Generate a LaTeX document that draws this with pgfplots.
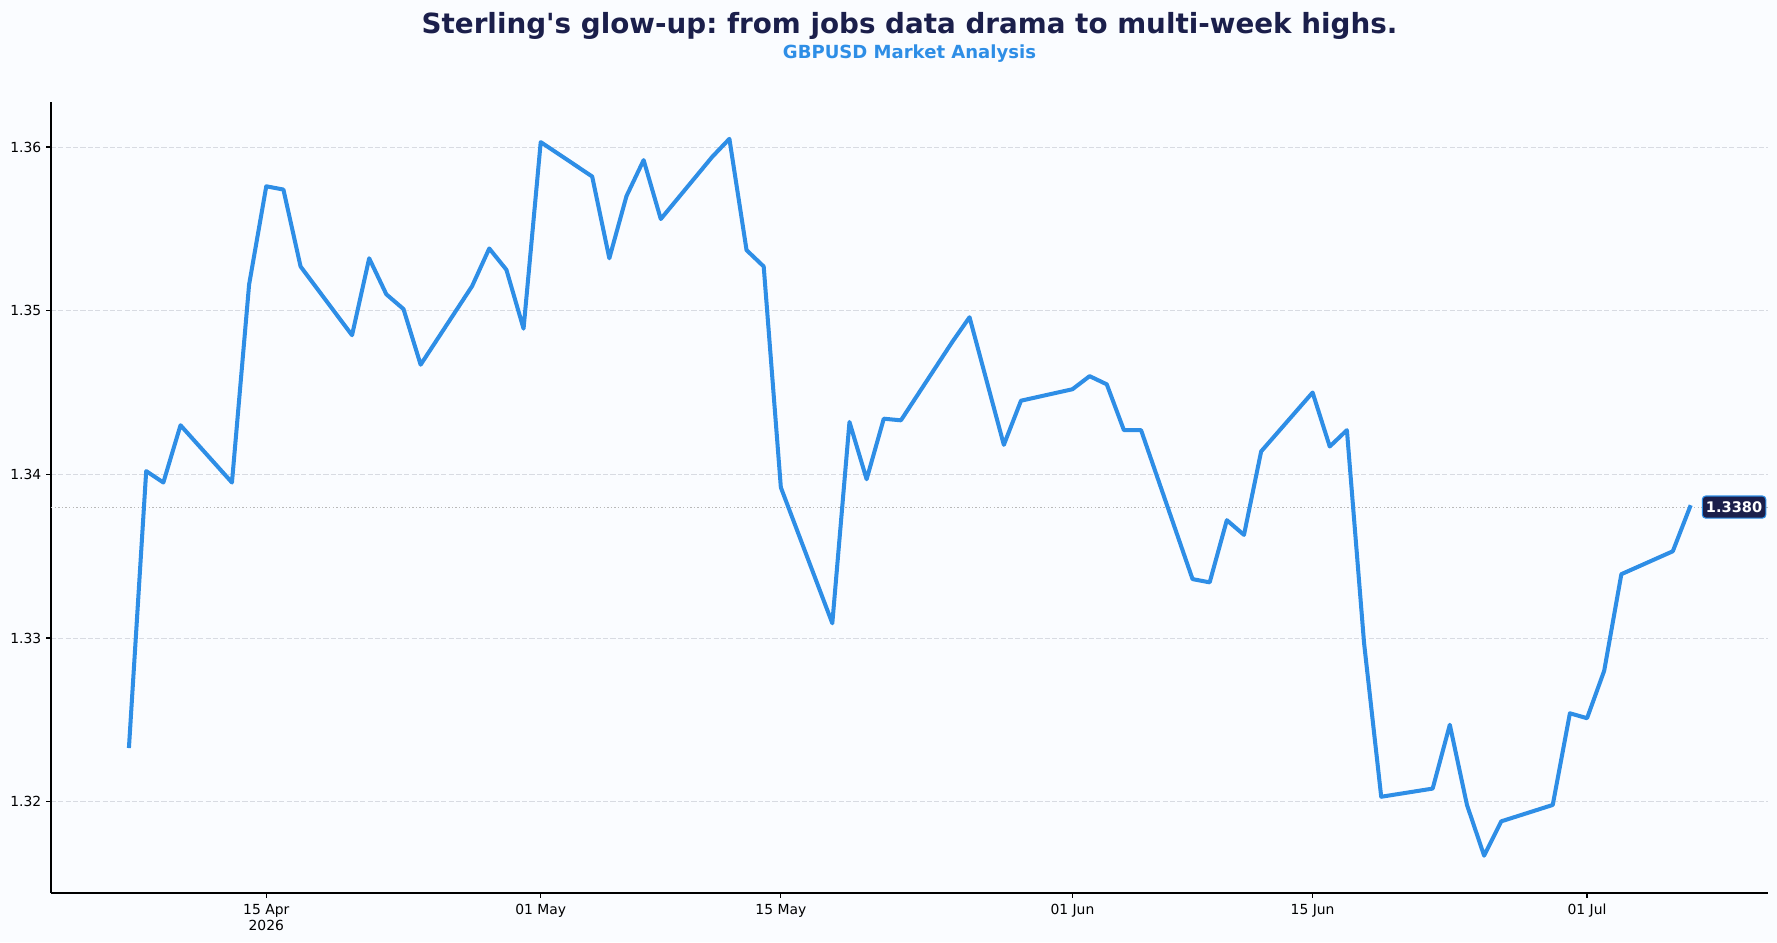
\documentclass[border=0pt]{standalone}
\usepackage{fontspec}
\setmainfont{DejaVu Sans}[Ligatures=TeXOff]
\usepackage{pgfplots}
\usepackage{pgfplotstable}
\pgfplotsset{compat=1.18}
\usepgfplotslibrary{dateplot}
\frenchspacing

\definecolor{bgcol}{RGB}{250,252,255}
\definecolor{linecol}{RGB}{46,142,230}
\definecolor{navy}{RGB}{27,31,75}
\definecolor{gridcol}{RGB}{216,219,226}

% GBPUSD daily closes
\pgfplotstableread{
date        value
2026-04-07  1.3234
2026-04-08  1.3402
2026-04-09  1.3395
2026-04-10  1.3430
2026-04-13  1.3395
2026-04-14  1.3516
2026-04-15  1.3576
2026-04-16  1.3574
2026-04-17  1.3527
2026-04-20  1.3485
2026-04-21  1.3532
2026-04-22  1.3510
2026-04-23  1.3501
2026-04-24  1.3467
2026-04-27  1.3515
2026-04-28  1.3538
2026-04-29  1.3525
2026-04-30  1.3489
2026-05-01  1.3603
2026-05-04  1.3582
2026-05-05  1.3532
2026-05-06  1.3570
2026-05-07  1.3592
2026-05-08  1.3556
2026-05-11  1.3594
2026-05-12  1.3605
2026-05-13  1.3537
2026-05-14  1.3527
2026-05-15  1.3392
2026-05-18  1.3309
2026-05-19  1.3432
2026-05-20  1.3397
2026-05-21  1.3434
2026-05-22  1.3433
2026-05-25  1.3481
2026-05-26  1.3496
2026-05-28  1.3418
2026-05-29  1.3445
2026-06-01  1.3452
2026-06-02  1.3460
2026-06-03  1.3455
2026-06-04  1.3427
2026-06-05  1.3427
2026-06-08  1.3336
2026-06-09  1.3334
2026-06-10  1.3372
2026-06-11  1.3363
2026-06-12  1.3414
2026-06-15  1.3450
2026-06-16  1.3417
2026-06-17  1.3427
2026-06-18  1.3297
2026-06-19  1.3203
2026-06-22  1.3208
2026-06-23  1.3247
2026-06-24  1.3198
2026-06-25  1.3167
2026-06-26  1.3188
2026-06-29  1.3198
2026-06-30  1.3254
2026-07-01  1.3251
2026-07-02  1.3280
2026-07-03  1.3339
2026-07-06  1.3353
2026-07-07  1.3380
}\gbpusd

\begin{document}
\begin{tikzpicture}
% page background
\fill[bgcol] (-36.72pt,-35.28pt) rectangle (1242.72pt,642.96pt);

\begin{axis}[
  name=ax, at={(0,0)}, anchor=south west,
  scale only axis, width=1236.24pt, height=569.52pt,
  date coordinates in=x, date ZERO=2026-04-01,
  xmin=2026-04-02 10:48, xmax=2026-07-11 13:12,
  ymin=1.31442, ymax=1.36275,
  axis x line*=bottom, axis y line*=left,
  axis line style={black, line width=0.8pt},
  tick align=outside, major tick length=3.5pt,
  tick style={black, line width=0.8pt},
  xtick={2026-04-15,2026-05-01,2026-05-15,2026-06-01,2026-06-15,2026-07-01},
  xticklabels={{15 Apr\\2026},{01 May},{15 May},{01 Jun},{15 Jun},{01 Jul}},
  x tick label style={align=center, font=\fontsize{10}{12}\selectfont, yshift=-1pt},
  ytick={1.32,1.33,1.34,1.35,1.36},
  /pgf/number format/assume math mode=true,
  yticklabel style={font=\fontsize{10}{12}\selectfont,
    /pgf/number format/.cd, fixed, fixed zerofill, precision=2},
  ymajorgrids,
  grid style={gridcol, line width=0.6pt, dash pattern=on 3.7pt off 1.6pt},
  clip=false,
]
% latest close reference line
\addplot[gray!55, line width=0.6pt, dash pattern=on 1pt off 1.6pt, forget plot]
  coordinates {(2026-04-02 10:48,1.3380) (2026-07-11 13:12,1.3380)};

\addplot[linecol, line width=2.9pt, line join=round, line cap=rect]
  table[x=date, y=value]{\gbpusd};

\node[fill=navy, draw=linecol, line width=0.8pt, rounded corners=2.5pt,
  text=white, font=\bfseries\fontsize{10.5}{12}\selectfont,
  anchor=west, inner xsep=2.6pt, inner ysep=4pt, xshift=8.5pt]
  at (axis cs:2026-07-07,1.3380) {1.3380};
\end{axis}

\node[font=\bfseries\fontsize{20}{24}\selectfont, text=navy]
  at (618.12pt,624.6pt) {Sterling's glow-up: from jobs data drama to multi-week highs.};
\node[font=\bfseries\fontsize{13}{16}\selectfont, text=linecol]
  at (618.12pt,604.6pt) {GBPUSD Market Analysis};
\end{tikzpicture}
\end{document}
